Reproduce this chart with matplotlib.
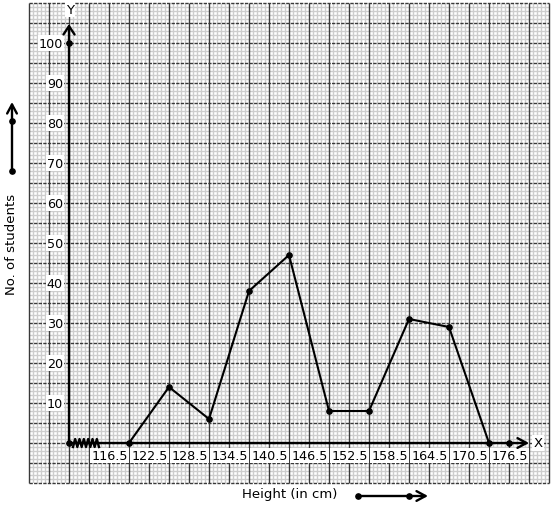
import numpy as np
import matplotlib.pyplot as plt
from matplotlib.lines import Line2D

# frequency polygon: class marks (cm) and number of students
heights = [122.5, 128.5, 134.5, 140.5, 146.5, 152.5, 158.5, 164.5, 170.5, 176.5]
students = [0, 14, 6, 38, 47, 8, 8, 31, 29, 0]

# extra dots drawn on the axes
dot_x = [113.5, 113.5, 179.5]
dot_y = [0, 100, 0]

x_ticks = [116.5, 122.5, 128.5, 134.5, 140.5, 146.5, 152.5, 158.5, 164.5, 170.5, 176.5]
x_tick_labels = ['116.5', '122.5', '128.5', '134.5', '140.5', '146.5',
                 '152.5', '158.5', '164.5', '170.5', '176.5']
y_ticks = [10, 20, 30, 40, 50, 60, 70, 80, 90, 100]

W, H = 554, 510
fig = plt.figure(figsize=(W / 100, H / 100), dpi=100)
ax = fig.add_axes([29 / W, 26 / H, 520 / W, 480 / H])
x0, x1, y0, y1 = 107.5, 185.5, -10, 110
ax.set_xlim(x0, x1)
ax.set_ylim(y0, y1)
ax.axis('off')

# graph paper
gx = x0 + 0.6 * np.arange(131)
gy = np.arange(y0, y1 + 1)
ax.vlines([x for i, x in enumerate(gx) if i % 5], y0, y1, color='#cdcdcd', lw=1.0, zorder=0)
ax.hlines([y for i, y in enumerate(gy) if i % 5], x0, x1, color='#cdcdcd', lw=1.0, zorder=0)
ax.vlines(gx[::5], y0, y1, color='#3a3a3a', lw=1.0, zorder=1, clip_on=False)
ax.hlines(gy[::5], x0, x1, color='#3a3a3a', lw=1.0, zorder=1,
          linestyles=[(0, (2.4, 0.9))], clip_on=False)

# axes with arrows
ax.annotate('', xy=(182.5, 0), xytext=(113.5, 0),
            arrowprops=dict(arrowstyle='->,head_length=0.65,head_width=0.35',
                            lw=1.7, color='black', shrinkA=0, shrinkB=0), zorder=4)
ax.annotate('', xy=(113.5, 104.75), xytext=(113.5, 0),
            arrowprops=dict(arrowstyle='->,head_length=0.6,head_width=0.4',
                            lw=1.7, color='black', shrinkA=0, shrinkB=0), zorder=4)

# axis break zigzag
zx = np.linspace(114.1, 118.0, 13)
zy = np.where(np.arange(13) % 2 == 0, -1.0, 1.0)
ax.plot(zx, zy, color='black', lw=1.7, zorder=5)

# polygon
ax.plot(heights, students, color='black', lw=1.5, marker='o', ms=3.8, zorder=6)
ax.plot(dot_x, dot_y, 'o', color='black', ms=3.8, zorder=6)

box = dict(boxstyle='square,pad=0.08', fc='white', ec='none')
for x, lab in zip(x_ticks, x_tick_labels):
    ax.text(x + 0.35, -3.1, lab, ha='left', va='center', fontsize=9.2, bbox=box, zorder=3)
for y in y_ticks:
    ax.text(112.6, y, str(y), ha='right', va='center', fontsize=9.2, bbox=box, zorder=3)
ax.text(113.65, 108.5, 'Y', ha='center', va='center', fontsize=9.5, bbox=box, zorder=3)
ax.text(183.85, 0, 'X', ha='center', va='center', fontsize=9.5, bbox=box, zorder=3)


def fp(px, py):
    return px / W, 1 - py / H


# outer labels
fig.text(*fp(12, 244), 'No. of students', rotation=90, ha='center', va='center', fontsize=9.5)
fig.text(*fp(289.5, 495), 'Height (in cm)', ha='center', va='center', fontsize=9.5)

# direction arrows next to the labels
ax.annotate('', xy=fp(428, 497), xytext=fp(358, 497), xycoords='figure fraction',
            arrowprops=dict(arrowstyle='->,head_length=0.65,head_width=0.35',
                            lw=1.7, color='black', shrinkA=0, shrinkB=0))
ax.annotate('', xy=fp(12, 103), xytext=fp(12, 172), xycoords='figure fraction',
            arrowprops=dict(arrowstyle='->,head_length=0.65,head_width=0.35',
                            lw=1.7, color='black', shrinkA=0, shrinkB=0))
bx, by = zip(fp(358, 497), fp(409, 497), fp(12, 172), fp(12, 122))
fig.add_artist(Line2D(bx, by, ls='', marker='o', ms=3.8, color='black',
                      transform=fig.transFigure))

fig.savefig('out.png', dpi=100)
